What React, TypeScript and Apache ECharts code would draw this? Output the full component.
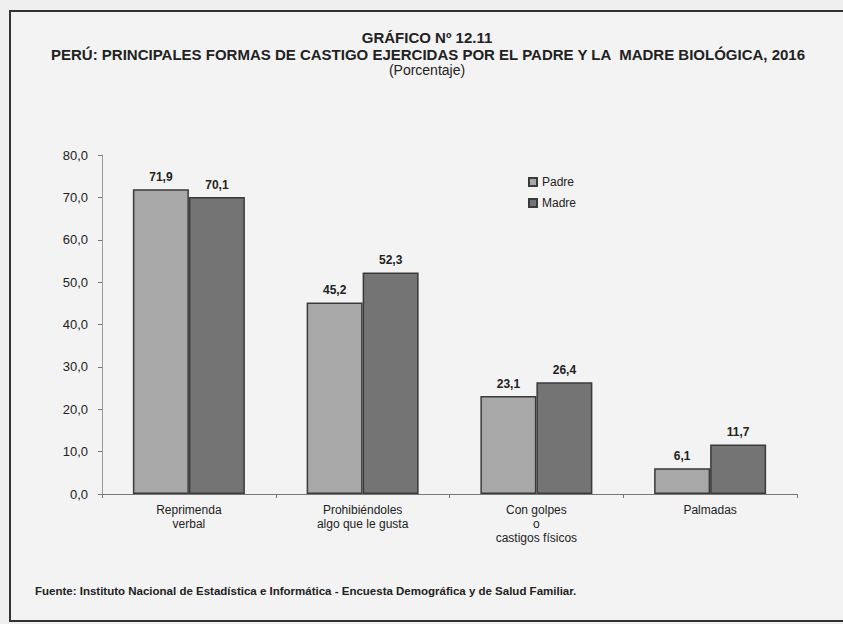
import React, { useEffect, useRef } from "react";
import * as echarts from "echarts";

const categories = [
  "Reprimenda\nverbal",
  "Prohibiéndoles\nalgo que le gusta",
  "Con golpes\no\ncastigos físicos",
  "Palmadas",
];
const padre = [71.9, 45.2, 23.1, 6.1];
const madre = [70.1, 52.3, 26.4, 11.7];
const seriesNames = ["Padre", "Madre"];

const titleLine1 = "GRÁFICO Nº 12.11";
const titleLine2 =
  "PERÚ: PRINCIPALES FORMAS DE CASTIGO EJERCIDAS POR EL PADRE Y LA  MADRE BIOLÓGICA, 2016";
const titleLine3 = "(Porcentaje)";
const source =
  "Fuente: Instituto Nacional de Estadística e Informática - Encuesta Demográfica y de Salud Familiar.";

const FONT = "'Liberation Sans', Arial, sans-serif";
const fmt = (v: number) => v.toFixed(1).replace(".", ",");

export default function App() {
  const ref = useRef<HTMLDivElement>(null);
  useEffect(() => {
    if (!ref.current) return;
    const chart = echarts.init(ref.current, undefined, { renderer: "svg" });
    const labelStyle = {
      show: true,
      position: "top" as const,
      distance: 6,
      fontFamily: FONT,
      fontSize: 12,
      fontWeight: "bold" as const,
      color: "#222",
      formatter: (p: any) => fmt(p.value),
    };
    chart.setOption({
      animation: false,
      backgroundColor: "#efefef",
      textStyle: { fontFamily: FONT },
      graphic: [
        {
          type: "rect",
          shape: { x: 10, y: 11, width: 860, height: 610 },
          style: { fill: "#f3f3f3", stroke: "#333", lineWidth: 2 },
          z: -10,
        },
        {
          type: "text",
          x: 427,
          y: 37,
          style: {
            text: titleLine1,
            textAlign: "center",
            textVerticalAlign: "middle",
            font: `bold 15px ${FONT}`,
            fill: "#222",
          },
        },
        {
          type: "text",
          x: 428,
          y: 54,
          style: {
            text: titleLine2,
            textAlign: "center",
            textVerticalAlign: "middle",
            font: `bold 15px ${FONT}`,
            fill: "#222",
          },
        },
        {
          type: "text",
          x: 427,
          y: 70,
          style: {
            text: titleLine3,
            textAlign: "center",
            textVerticalAlign: "middle",
            font: `14px ${FONT}`,
            fill: "#222",
          },
        },
        {
          type: "text",
          x: 35,
          y: 591,
          style: {
            text: source,
            textAlign: "left",
            textVerticalAlign: "middle",
            font: `bold 11.5px ${FONT}`,
            fill: "#222",
          },
        },
      ],
      legend: {
        orient: "vertical",
        left: 523,
        top: 171,
        itemWidth: 8,
        itemHeight: 8,
        itemGap: 9,
        icon: "rect",
        data: seriesNames,
        textStyle: { fontFamily: FONT, fontSize: 12, color: "#222" },
      },
      grid: { left: 102, right: 46, top: 155, bottom: 130, containLabel: false },
      xAxis: {
        type: "category",
        data: categories,
        axisLine: { lineStyle: { color: "#777", width: 1 } },
        axisTick: { show: true, length: 4, lineStyle: { color: "#777" } },
        axisLabel: {
          fontFamily: FONT,
          fontSize: 12,
          lineHeight: 14,
          color: "#222",
          margin: 9,
          interval: 0,
        },
      },
      yAxis: {
        type: "value",
        min: 0,
        max: 80,
        interval: 10,
        splitLine: { show: false },
        axisLine: { show: true, lineStyle: { color: "#999" } },
        axisTick: { show: true, length: 4, lineStyle: { color: "#777" } },
        axisLabel: {
          fontFamily: FONT,
          fontSize: 13,
          color: "#222",
          margin: 14,
          formatter: (v: number) => fmt(v),
        },
      },
      series: [
        {
          name: seriesNames[0],
          type: "bar",
          data: padre,
          barWidth: 56,
          barGap: "0%",
          itemStyle: { color: "#a8a8a8", borderColor: "#3a3a3a", borderWidth: 1.5 },
          label: labelStyle,
        },
        {
          name: seriesNames[1],
          type: "bar",
          data: madre,
          barWidth: 56,
          barGap: "0%",
          itemStyle: { color: "#747474", borderColor: "#3a3a3a", borderWidth: 1.5 },
          label: labelStyle,
        },
      ],
    });
    return () => chart.dispose();
  }, []);
  return (
    <div
      ref={ref}
      style={{ position: "absolute", left: 0, top: 0, width: 843, height: 624 }}
    />
  );
}
